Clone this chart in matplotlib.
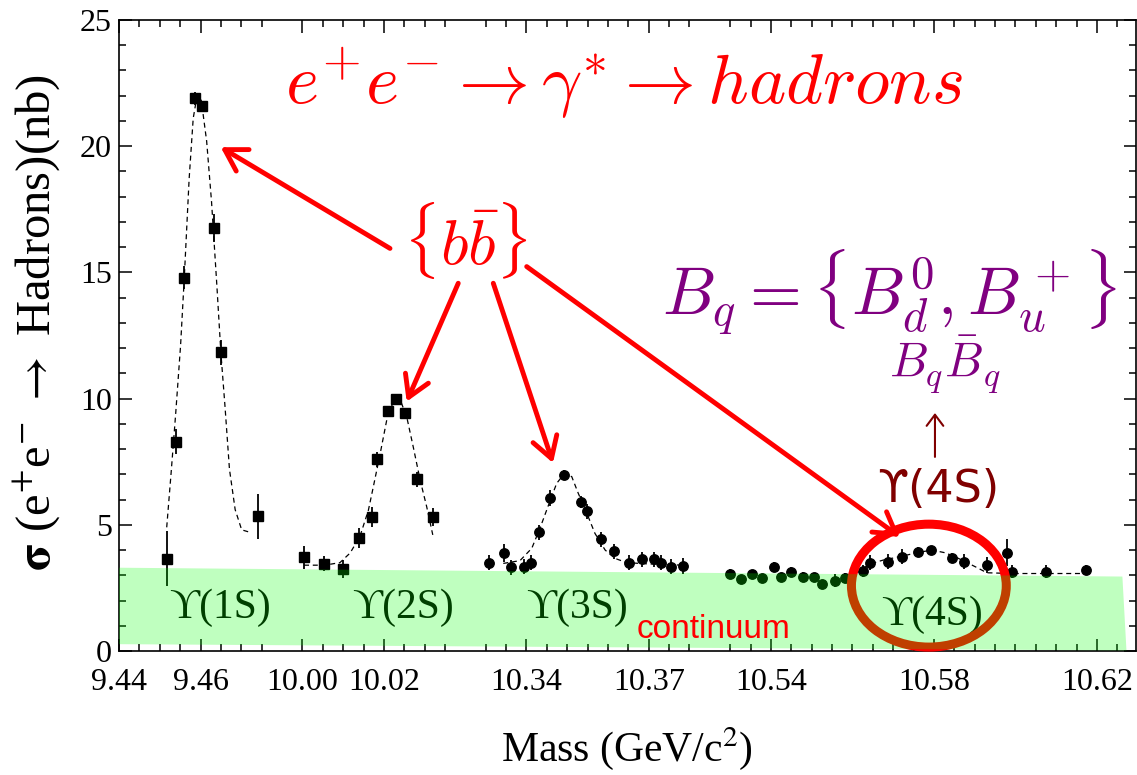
import numpy as np
import matplotlib
matplotlib.use('Agg')
import matplotlib.pyplot as plt
from matplotlib.patches import Ellipse, Polygon

plt.rcParams['mathtext.fontset'] = 'cm'
plt.rcParams['font.family'] = ['Liberation Serif', 'DejaVu Serif']

# broken mass axis: each segment starts at a mass and a slot on the axis,
# one slot (minor tick) = 5 MeV
seg_mass = [9.44, 10.00, 10.34, 10.54]
seg_slot = [0, 9, 20, 32]
seg_ticks = [(0, 7), (9, 16), (18, 28), (30, 49)]
slot_width = 0.005

tick_mass = [9.44, 9.46, 10.00, 10.02, 10.34, 10.37, 10.54, 10.58, 10.62]
tick_text = ['9.44', '9.46', '10.00', '10.02', '10.34', '10.37', '10.54', '10.58', '10.62']

# Upsilon(1S)
m_1s = [9.4517, 9.4539, 9.4560, 9.4587, 9.4603, 9.4634, 9.4650, 9.4741]
s_1s = [3.66, 8.29, 14.79, 21.9, 21.6, 16.77, 11.83, 5.34]
e_1s = [1.1, 0.5, 0.45, 0.25, 0.2, 0.55, 0.5, 0.9]
fit_m_1s = [9.4517, 9.4528, 9.4539, 9.4551, 9.4560, 9.4572, 9.4582, 9.4592, 9.4602,
            9.4615, 9.4627, 9.4640, 9.4650, 9.4660, 9.4671, 9.4685, 9.4701, 9.4722]
fit_s_1s = [4.9, 7.1, 9.4, 12.1, 14.75, 18.7, 21.1, 22.05, 21.8,
            20.2, 17.8, 14.5, 11.8, 9.7, 7.2, 5.6, 4.8, 4.7]

# Upsilon(2S)
m_2s = [10.0004, 10.0054, 10.0100, 10.0139, 10.0172, 10.0182, 10.0209, 10.0229,
        10.0253, 10.0282, 10.0321]
s_2s = [3.71, 3.45, 3.24, 4.48, 5.3, 7.6, 9.5, 9.97, 9.44, 6.81, 5.3]
e_2s = [0.45, 0.3, 0.35, 0.4, 0.4, 0.3, 0.2, 0.15, 0.2, 0.3, 0.35]
fit_m_2s = [10.0004, 10.0054, 10.0092, 10.0117, 10.0141, 10.0162, 10.0174, 10.0191,
            10.0207, 10.0223, 10.0240, 10.0256, 10.0272, 10.0289, 10.0305, 10.0320]
fit_s_2s = [3.4, 3.4, 3.5, 3.88, 4.53, 5.58, 6.5, 7.83, 9.15, 9.88, 9.95, 9.28,
            8.09, 6.77, 5.72, 4.6]

# Upsilon(3S)
m_3s = [10.3309, 10.3345, 10.3362, 10.3394, 10.3410, 10.3431, 10.3458, 10.3492,
        10.3533, 10.3549, 10.3582, 10.3615, 10.3651, 10.3684, 10.3714, 10.3729,
        10.3754, 10.3785]
s_3s = [3.5, 3.87, 3.31, 3.34, 3.5, 4.71, 6.06, 6.99, 5.9, 5.53, 4.42, 3.95, 3.5,
        3.63, 3.63, 3.5, 3.34, 3.37]
e_3s = [0.3, 0.35, 0.3, 0.3, 0.3, 0.3, 0.3, 0.2, 0.25, 0.3, 0.3, 0.3, 0.3, 0.3,
        0.3, 0.3, 0.3, 0.3]
fit_m_3s = [10.3343, 10.3384, 10.3413, 10.3433, 10.3454, 10.3474, 10.3492, 10.3511,
            10.3527, 10.3548, 10.3568, 10.3593, 10.3617, 10.3646, 10.3700, 10.3785]
fit_s_3s = [3.47, 3.58, 4.07, 4.86, 5.78, 6.64, 7.01, 6.91, 6.25, 5.46, 4.66, 4.0,
            3.67, 3.5, 3.45, 3.4]

# continuum + Upsilon(4S)
m_4s = [10.5299, 10.5326, 10.5354, 10.5379, 10.5407, 10.5424, 10.5450, 10.5479,
        10.5505, 10.5526, 10.5557, 10.5581, 10.5626, 10.5643, 10.5688, 10.5722,
        10.5761, 10.5793, 10.5845, 10.5873, 10.5929, 10.5980, 10.5992, 10.6076, 10.6174]
s_4s = [3.05, 2.85, 3.05, 2.88, 3.34, 2.92, 3.14, 2.92, 2.94, 2.65, 2.79, 2.88, 3.17,
        3.5, 3.54, 3.74, 3.93, 4.02, 3.67, 3.54, 3.41, 3.9, 3.14, 3.14, 3.21]
e_4s = [0.2, 0.15, 0.15, 0.15, 0.2, 0.15, 0.2, 0.2, 0.15, 0.15, 0.25, 0.2, 0.25,
        0.3, 0.3, 0.3, 0.2, 0.15, 0.2, 0.3, 0.3, 0.55, 0.25, 0.25, 0.2]
fit_m_4s = [10.5610, 10.5643, 10.5675, 10.5720, 10.5760, 10.5795, 10.5825, 10.5850,
            10.5875, 10.5900, 10.5930, 10.5990, 10.6076, 10.6174]
fit_s_4s = [3.1, 3.45, 3.6, 3.75, 3.9, 4.0, 3.9, 3.75, 3.55, 3.35, 3.1, 3.07, 3.07, 3.07]


def to_slot(masses):
    masses = np.atleast_1d(np.asarray(masses, dtype=float))
    out = np.empty_like(masses)
    for i, m in enumerate(masses):
        k = np.searchsorted(seg_mass, m + 1e-9) - 1
        k = max(k, 0)
        if k + 1 < len(seg_mass) and m > seg_mass[k + 1] - 0.1:
            k = k + 1
        out[i] = seg_slot[k] + (m - seg_mass[k]) / slot_width
    return out


fig = plt.figure(figsize=(11.37, 7.75), dpi=100)
ax = fig.add_axes([0.1047, 0.16, 0.8941, 0.8142])

ms = dict(color='black', ms=6.8, lw=0, elinewidth=1.3, capsize=0, zorder=3)
dash = dict(color='black', lw=0.9, ls=(0, (4, 3)), zorder=2)

ax.errorbar(to_slot(m_1s), s_1s, yerr=e_1s, fmt='s', **ms)
ax.plot(to_slot(fit_m_1s), fit_s_1s, **dash)
ax.errorbar(to_slot(m_2s), s_2s, yerr=e_2s, fmt='s', **ms)
ax.plot(to_slot(fit_m_2s), fit_s_2s, **dash)
ax.errorbar(to_slot(m_3s), s_3s, yerr=e_3s, fmt='o', **ms)
ax.plot(to_slot(fit_m_3s), fit_s_3s, **dash)
ax.errorbar(to_slot(m_4s), s_4s, yerr=e_4s, fmt='o', **ms)
ax.plot(to_slot(fit_m_4s), fit_s_4s, **dash)

ax.set_xlim(0, 49.9)
ax.set_ylim(0, 25)

# ticks
ax.set_xticks(to_slot(tick_mass))
ax.set_xticklabels(tick_text)
minor = []
for a, b in seg_ticks:
    minor += list(range(a, b + 1))
ax.set_xticks(minor, minor=True)
ax.set_yticks([0, 5, 10, 15, 20, 25])
ax.set_yticks(range(0, 26), minor=True)
ax.tick_params(which='both', direction='in', top=True, right=True, width=1.1)
ax.tick_params(which='major', length=9, labelsize=23)
ax.tick_params(which='minor', length=5)
ax.tick_params(axis='x', pad=12)
ax.tick_params(axis='y', pad=5)
for sp in ax.spines.values():
    sp.set_linewidth(1.2)

ax.set_xlabel('Mass (GeV/c$^{2}$)', fontsize=30, math_fontfamily='stix')
ax.set_ylabel(r'$\mathbf{\sigma}$ (e$^{+}$e$^{-}$ $\rightarrow$ Hadrons)(nb)', fontsize=35,
              math_fontfamily='stix')
ax.yaxis.set_label_coords(-0.056, 0.52)
ax.xaxis.set_label_coords(0.5, -0.118)

# resonance labels (black, tinted by the green band on top)
for xm, yv, lab in [(9.4647, 1.7, 'ϒ(1S)'), (10.0247, 1.7, 'ϒ(2S)'),
                    (10.3524, 1.7, 'ϒ(3S)'), (10.5795, 1.45, 'ϒ(4S)')]:
    ax.text(to_slot(xm)[0], yv, lab, fontsize=30, ha='center', va='center',
            family=['Liberation Serif', 'DejaVu Serif'], color='black', zorder=4)

ax.add_patch(Ellipse((39.75, 2.59), 7.6, 4.87, fill=False, ec='red', lw=6.5, zorder=4,
                     clip_on=False))

# continuum band
ax.add_patch(Polygon([(0, 3.3), (49.25, 2.95), (49.45, 0.02), (0, 0.27)], closed=True,
                     fc=(0, 1, 0), alpha=0.25, lw=0, zorder=5))

ax.text(25.42, 0.52, 'continuum', color='red', fontsize=24, family='Liberation Sans',
        ha='left', va='baseline', zorder=6)

# headline formulas
ax.text(24.79, 22.5, r'$e^{+}e^{-}\rightarrow\gamma^{*}\rightarrow hadrons$', color='red',
        fontsize=51, ha='center', va='center', zorder=6)
ax.text(16.98, 16.28, r'$\{b\bar{b}\}$', color='red', fontsize=46, ha='center',
        va='center', zorder=6)
ax.text(37.79, 14.2, r'$B_q=\{B_d^0,B_u^+\}$', color='purple', fontsize=48,
        ha='center', va='center', zorder=6)
ax.text(40.54, 11.33, r'$B_q\bar{B}_q$', color='purple', fontsize=35, ha='center',
        va='center', zorder=6)
ax.text(40.2, 6.38, 'ϒ(4S)', color='#800000', fontsize=32, family='DejaVu Sans',
        ha='center', va='center', zorder=6)
ax.annotate('', xy=(40.05, 9.43), xytext=(40.05, 7.69),
            arrowprops=dict(arrowstyle='->,head_length=0.4,head_width=0.3',
                            color='#800000', lw=1.5, mutation_scale=20,
                            shrinkA=0, shrinkB=0), zorder=6)

arrows = [((13.30, 15.95), (4.99, 19.96)),
          ((16.65, 14.57), (14.12, 9.88)),
          ((18.37, 14.57), (21.3, 7.45)),
          ((20.01, 15.23), (38.33, 4.52))]
for start, tip in arrows:
    ax.annotate('', xy=tip, xytext=start,
                arrowprops=dict(arrowstyle='->,head_length=0.75,head_width=0.45',
                                color='red', lw=3.5, mutation_scale=20,
                                shrinkA=0, shrinkB=0), zorder=6)

fig.savefig('out.png', dpi=100)
